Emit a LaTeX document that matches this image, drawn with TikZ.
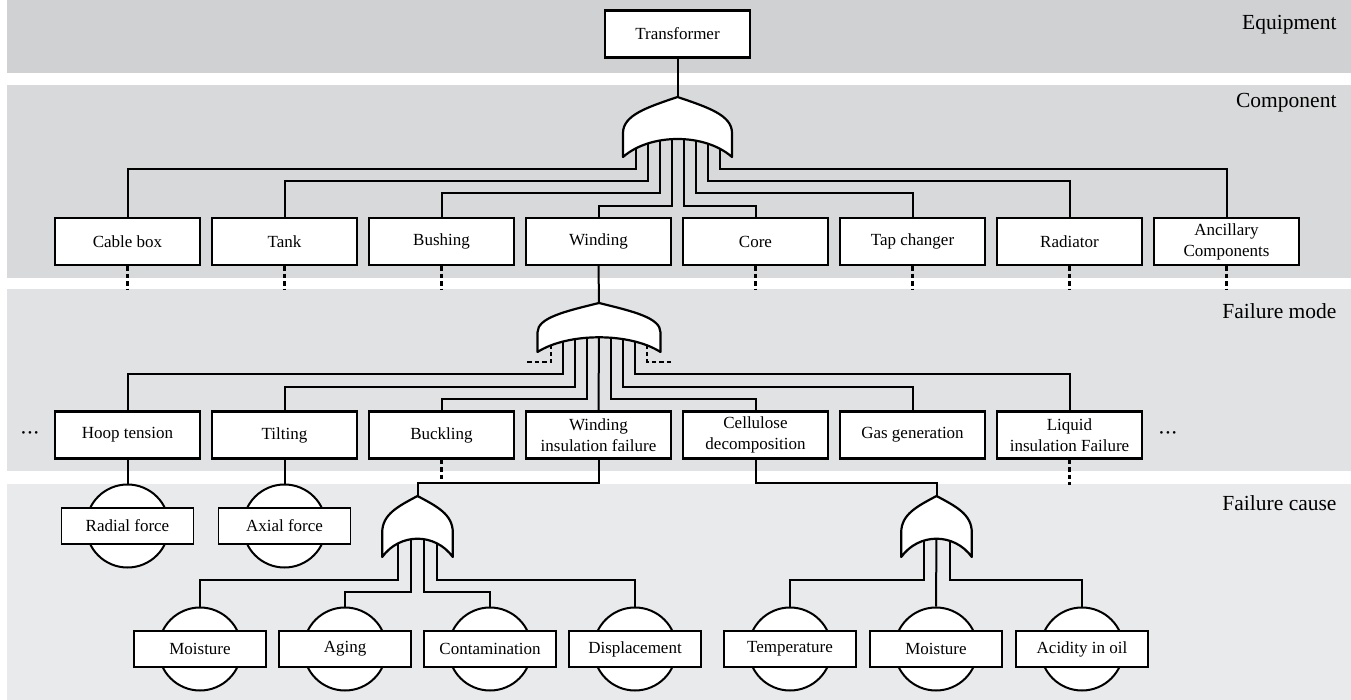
\documentclass[tikz,border=0pt]{standalone}
\usepackage{fontspec}
\setmainfont{Liberation Serif}
\usetikzlibrary{positioning}

\definecolor{bandA}{HTML}{D0D1D3}
\definecolor{bandB}{HTML}{D8D9DB}
\definecolor{bandC}{HTML}{E1E2E4}
\definecolor{bandD}{HTML}{E9EAEC}

\newcommand{\orgate}[4]{%
  \pgfmathsetmacro\gL{#1-#3}\pgfmathsetmacro\gR{#1+#3}%
  \pgfmathsetmacro\gB{#2+#4}\pgfmathsetmacro\gS{#2+0.6*#4}%
  \pgfmathsetmacro\gC{#2+0.3*#4}\pgfmathsetmacro\gT{#2+0.17*#4}%
  \pgfmathsetmacro\gl{#1-0.55*#3}\pgfmathsetmacro\gr{#1+0.55*#3}%
  \pgfmathsetmacro\il{#1-0.5*#3}\pgfmathsetmacro\ir{#1+0.5*#3}%
  \draw[gate] (\gL,\gB) -- (\gL,\gS) .. controls (\gL,\gC) and (\gl,\gT) .. (#1,#2)
    .. controls (\gr,\gT) and (\gR,\gC) .. (\gR,\gS) -- (\gR,\gB)
    .. controls (\ir,\gS) and (\il,\gS) .. cycle;
}

\begin{document}
\begin{tikzpicture}[
    x=1pt, y=-1pt,
    node distance=157pt,
    compbox/.style={rectangle, draw, fill=white, line width=2.2pt, minimum width=145pt, minimum height=47pt, inner sep=1pt, align=center, font=\fontsize{17}{21}\selectfont},
    causebox/.style={rectangle, draw, fill=white, line width=1.5pt, minimum width=132pt, minimum height=36pt, inner sep=1pt, font=\fontsize{17}{21}\selectfont},
    causecirc/.style={circle, draw, fill=white, line width=2pt, minimum size=83pt, inner sep=0pt},
    link/.style={line width=2pt},
    dotlink/.style={line width=2.2pt, dash pattern=on 4.5pt off 3pt},
    gate/.style={fill=white, line width=2.2pt, line join=round},
    moredots/.style={inner sep=0pt, font=\fontsize{11}{11}\selectfont},
    layerlabel/.style={anchor=base east, font=\fontsize{21.5}{24}\selectfont}
]
\useasboundingbox (0,0) rectangle (1351,700);
\fill[bandA] (6.5,0) rectangle (1351,72.7);
\fill[bandB] (6.5,84.7) rectangle (1351,277.7);
\fill[bandC] (6.5,289) rectangle (1351,470.7);
\fill[bandD] (6.5,484) rectangle (1351,700);

\node[layerlabel] (equip) at (1340,30) {Equipment};
\node[layerlabel] (compo) at (1340,108) {Component};
\node[layerlabel] (fmode) at (1340,319) {Failure mode};
\node[layerlabel] (fcause) at (1340,510) {Failure cause};

\node[compbox] (trafo) at (677.5,34) {Transformer};

\node[compbox] (cable) at (127.5,241.5) {Cable box};
\node[compbox, right of=cable] (tank) {Tank};
\node[compbox, right of=tank] (bushing) {Bushing};
\node[compbox, right of=bushing] (winding) {Winding};
\node[compbox, right of=winding] (core) {Core};
\node[compbox, right of=core] (tapch) {Tap changer};
\node[compbox, right of=tapch] (radiator) {Radiator};
\node[compbox, right of=radiator] (ancil) {Ancillary\\Components};

\node[compbox] (hoop) at (127.5,435) {Hoop tension};
\node[compbox, right of=hoop] (tilt) {Tilting};
\node[compbox, right of=tilt] (buckl) {Buckling};
\node[compbox, right of=buckl] (winsul) {Winding\\insulation failure};
\node[compbox, right of=winsul] (cellu) {Cellulose\\decomposition};
\node[compbox, right of=cellu] (gasgen) {Gas generation};
\node[compbox, right of=gasgen] (liqins) {Liquid\\insulation Failure};
\node[moredots] (moreL) at (30,434) {\textbullet\hspace{2.5pt}\textbullet\hspace{2.5pt}\textbullet};
\node[moredots] (moreR) at (1168,434) {\textbullet\hspace{2.5pt}\textbullet\hspace{2.5pt}\textbullet};

\node[causecirc] (radc) at (127.5,526) {};
\node[causebox] (radial) at (radc) {Radial force};
\node[causecirc, right of=radc] (axc) {};
\node[causebox] (axial) at (axc) {Axial force};

\node[causecirc] (moic) at (200,649) {};
\node[causebox] (moist) at (moic) {Moisture};
\node[causecirc, right of=moic, xshift=-12pt] (agec) {};
\node[causebox] (aging) at (agec) {Aging};
\node[causecirc, right of=agec, xshift=-12pt] (conc) {};
\node[causebox] (contam) at (conc) {Contamination};
\node[causecirc, right of=conc, xshift=-12pt] (disc) {};
\node[causebox] (displ) at (disc) {Displacement};
\node[causecirc, right of=disc, xshift=-2pt] (tempc) {};
\node[causebox] (temp) at (tempc) {Temperature};
\node[causecirc, right of=tempc, xshift=-11pt] (moibc) {};
\node[causebox] (moistb) at (moibc) {Moisture};
\node[causecirc, right of=moibc, xshift=-11pt] (acic) {};
\node[causebox] (acid) at (acic) {Acidity in oil};

\coordinate (g1) at (677.5,97);
\coordinate (g2) at (599,303);
\coordinate (g3) at (417.5,496);
\coordinate (g4) at (936.5,496);
\coordinate (dotl) at (527,362);
\coordinate (dotr) at (671,362);

\draw[link] (trafo.south) -- (g1);
\foreach \n/\dx/\dy in {cable/-42/72, tank/-30/84, bushing/-18/96, winding/-6/109, core/6/109, tapch/18/96, radiator/30/84, ancil/42/72}
  \draw[link] (\n.north) |- ([xshift=\dx pt,yshift=-\dy pt]g1) -- ([xshift=\dx pt,yshift=-40pt]g1);
\foreach \n in {cable,tank,bushing,core,tapch,radiator,ancil}
  \draw[dotlink] (\n.south) -- ([yshift=-24pt]\n.south);

\draw[link] (winding.south) -- (g2);
\foreach \n/\dx/\dy in {hoop/-36/71, tilt/-24/84, buckl/-12/96, cellu/12/96, gasgen/24/84, liqins/36/71}
  \draw[link] (\n.north) |- ([xshift=\dx pt,yshift=-\dy pt]g2) -- ([xshift=\dx pt,yshift=-30pt]g2);
\draw[link] (winsul.north) -- ([yshift=-30pt]g2);
\draw[dotlink] (dotl) -| ([xshift=-48pt,yshift=-30pt]g2);
\draw[dotlink] (dotr) -| ([xshift=48pt,yshift=-30pt]g2);

\draw[link] (hoop.south) -- (radc.north);
\draw[link] (tilt.south) -- (axc.north);
\draw[dotlink] (buckl.south) -- ([yshift=-24pt]buckl.south);
\draw[dotlink] (liqins.south) -- ([yshift=-25pt]liqins.south);
\draw[link] (winsul.south) |- ([yshift=13pt]g3) -- (g3);
\draw[link] (cellu.south) |- ([yshift=13pt]g4) -- (g4);

\foreach \n/\dx/\dy in {moic/-19.5/84, agec/-6.5/96, conc/6.5/96, disc/19.5/84}
  \draw[link] (\n.north) |- ([xshift=\dx pt,yshift=-\dy pt]g3) -- ([xshift=\dx pt,yshift=-38pt]g3);
\foreach \n/\dx/\dy in {tempc/-13/84, acic/13/84}
  \draw[link] (\n.north) |- ([xshift=\dx pt,yshift=-\dy pt]g4) -- ([xshift=\dx pt,yshift=-38pt]g4);
\draw[link] (moibc.north) -- ([yshift=-38pt]g4);

\orgate{677.5}{97}{54.5}{60}
\orgate{599}{303}{61.5}{49}
\orgate{417.5}{496}{35.3}{61}
\orgate{936.5}{496}{35.3}{61}
\end{tikzpicture}
\end{document}
